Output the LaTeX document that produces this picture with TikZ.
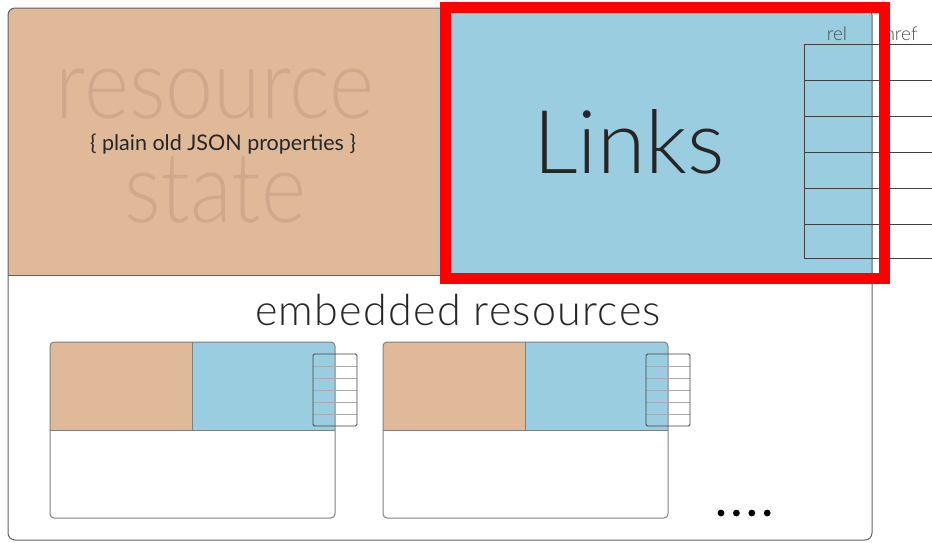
\documentclass[tikz,border=0pt]{standalone}
\usepackage{fontspec}
\setmainfont{Lato}
\newfontfamily\lightfont{Lato Light}
\newfontfamily\ghostfont{Lato Light}[FakeStretch=0.88]
\newfontfamily\widefont{Lato Light}[LetterSpace=3]
\usetikzlibrary{positioning}
\definecolor{statetan}{RGB}{224,185,153}
\definecolor{linkblue}{RGB}{154,205,224}
\definecolor{ghosttan}{RGB}{207,169,139}
\definecolor{edgegray}{RGB}{95,95,95}
\definecolor{cellgray}{RGB}{170,170,170}
\tikzset{
  frame/.style={draw=edgegray,line width=1pt,rounded corners=7pt},
  tablerule/.style={draw=black!75,line width=0.9pt},
  cellrule/.style={draw=cellgray,line width=0.6pt},
  ghost/.style={font=\ghostfont\fontsize{98}{98}\selectfont,text=ghosttan,anchor=base,inner sep=0pt},
  bigword/.style={font=\lightfont\fontsize{88}{88}\selectfont,text=black!85,anchor=base,inner sep=0pt},
  heading/.style={font=\widefont\fontsize{43}{43}\selectfont,text=black!85,anchor=base,inner sep=0pt},
  colhead/.style={font=\lightfont\fontsize{19}{19}\selectfont,text=black!70,anchor=base,inner sep=0pt},
  highlight/.style={draw=red,line width=11pt}
}

\begin{document}
\begin{tikzpicture}[x=1pt,y=-1pt]
\useasboundingbox (0,0) rectangle (932,542);
% top half: state on the left, links on the right
\begin{scope}
  \clip[rounded corners=7pt] (8,8) rectangle (872,540);
  \fill[statetan] (8,8) rectangle (438,275);
  \fill[linkblue] (438,8) rectangle (872,275);
\end{scope}
\draw[edgegray,line width=1pt] (8,275) -- (872,275);
\draw[frame] (8,8) rectangle (872,540);

\node[ghost,text depth=0pt] (resource) at (215,118) {resource};
\node[ghost] (state) at (215,222) {state};
\node[font=\fontsize{21.5}{21.5}\selectfont,text=black!85,anchor=base,inner sep=0pt]
  (props) at (223,150) {\{ plain old JSON properties \}};
\node[bigword] (links) at (629,173) {Links};

% rel / href table
\node[colhead] (rel) at (837,40) {rel};
\node[colhead] (href) at (901,40) {href};
\foreach \y in {44,80,116,152,188,224,258}
  \draw[tablerule] (804,\y) -- (932,\y);
\draw[tablerule] (804,44) -- (804,258);

% embedded resources
\node[heading] (embedded) at (458,325) {embedded resources};
\foreach \dx in {0,333} {
  \begin{scope}[xshift=\dx]
    \begin{scope}
      \clip[rounded corners=4pt] (50,342) rectangle (335,518);
      \fill[statetan] (50,342) rectangle (192,430);
      \fill[linkblue] (192,342) rectangle (335,430);
    \end{scope}
    \draw[edgegray!80,line width=0.8pt] (50,430) -- (335,430) (192,342) -- (192,430);
    \draw[frame,edgegray!80,rounded corners=4pt] (50,342) rectangle (335,518);
    \foreach \y in {366,378,390,402,414}
      \draw[cellrule] (313,\y) -- (357,\y);
    \draw[cellrule] (335,354) -- (335,426);
    \draw[tablerule,rounded corners=1.5pt] (313,354) rectangle (357,426);
  \end{scope}
}
\foreach \i in {0,...,3}
  \fill (721+15.4*\i,513) circle (3.4pt);

% highlight round the links panel
\draw[highlight] (445.5,7.5) rectangle (884,278.5);
\end{tikzpicture}
\end{document}
